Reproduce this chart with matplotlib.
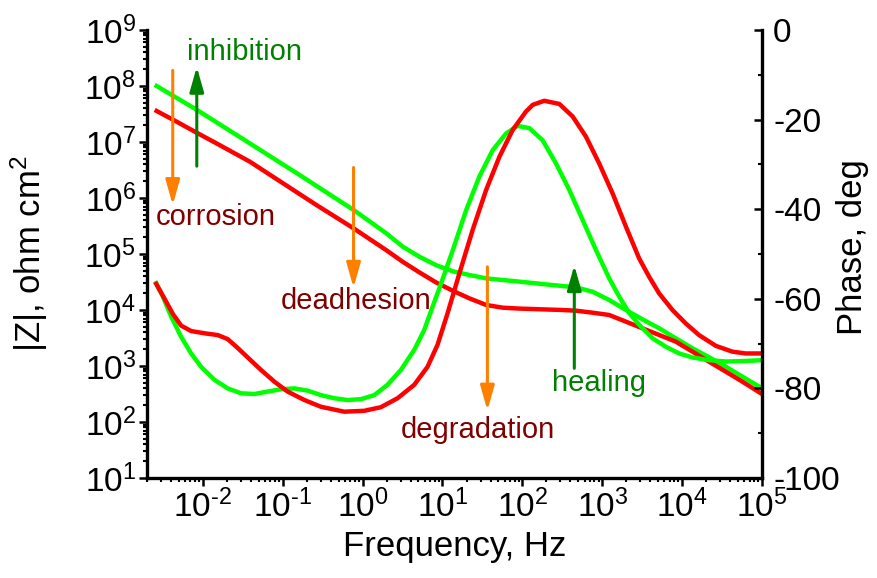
import numpy as np
import matplotlib
matplotlib.use('Agg')
import matplotlib.pyplot as plt
from matplotlib import ticker

plt.rcParams['font.family'] = ['Liberation Sans', 'DejaVu Sans']
plt.rcParams['mathtext.fontset'] = 'custom'
plt.rcParams['mathtext.rm'] = 'Liberation Sans'
plt.rcParams['mathtext.it'] = 'Liberation Sans:italic'
plt.rcParams['mathtext.default'] = 'regular'
plt.rcParams['axes.unicode_minus'] = False

# |Z| curves (Hz, ohm cm2)
f_z_green = [2.64e-3, 8.49e-3, 3.87e-2, 0.163, 0.772, 1.98, 3.19, 5.16, 8.34, 13.5, 21.8,
             35.2, 91.7, 239, 469, 757, 1220, 1980, 3190, 5160, 8340, 1.35e4,
             2.18e4, 3.52e4, 5.68e4, 1e5]
z_green = [1.0e8, 3.72e7, 9.46e6, 2.57e6, 6.11e5, 2.34e5, 1.35e5, 8.91e4, 6.31e4, 4.90e4, 4.22e4,
           3.67e4, 3.21e4, 2.79e4, 2.54e4, 2.12e4, 1.51e4, 1.0e4, 6810, 4710, 3120, 2070,
           1430, 973, 646, 400]

f_z_red = [2.64e-3, 4.69e-3, 8.34e-3, 1.48e-2, 3.87e-2, 0.101, 0.264, 0.772, 1.98, 3.19,
           5.16, 8.34, 13.5, 21.8, 35.2, 56.8, 91.7, 319, 469, 757, 1220, 1980, 3190,
           5160, 8340, 1.35e4, 2.18e4, 3.52e4, 5.68e4, 1e5]
z_red = [3.58e7, 2.31e7, 1.47e7, 9.46e6, 4.46e6, 1.83e6, 7.50e5, 2.87e5, 1.17e5, 7.24e4,
         4.68e4, 3.10e4, 2.20e4, 1.61e4, 1.23e4, 1.10e4, 1.06e4, 1.0e4, 9730, 8950, 8150,
         6190, 4710, 3580, 2720, 1800, 1190, 793, 525, 316]

# phase curves (Hz, deg)
f_ph_green = [2.61e-3, 3.16e-3, 4.02e-3, 5.36e-3, 7.14e-3, 9.53e-3, 1.40e-2, 2.05e-2,
              3.01e-2, 4.43e-2, 6.49e-2, 9.53e-2, 0.140, 0.205, 0.301, 0.443, 0.649,
              0.953, 1.40, 2.05, 3.01, 4.43, 5.90, 7.87, 9.17, 13.5, 19.8, 29.0, 42.6,
              62.5, 87.1, 122, 179, 264, 387, 568, 834, 1220, 1630, 2180, 2900, 4260,
              6250, 9170, 1.35e4, 2.18e4, 3.52e4, 5.68e4, 1e5]
ph_green = [-56.5, -59.5, -64.0, -68.5, -72.2, -75.2, -78.1, -80.0,
            -81.1, -81.25, -80.7, -80.2, -80.0, -80.5, -81.5, -82.2, -82.6,
            -82.4, -81.5, -79.2, -75.9, -71.4, -67.0, -60.8, -57.6, -49.1, -40.2, -32.7, -26.8,
            -23.1, -21.4, -21.9, -24.6, -29.8, -35.7, -42.4, -49.1, -55.4, -59.5, -63.2, -65.8,
            -68.8, -70.7, -72.2, -73.1, -73.7, -74.0, -73.9, -73.7]

f_ph_red = [2.61e-3, 3.32e-3, 4.22e-3, 5.36e-3, 7.14e-3, 1.05e-2, 1.54e-2, 2.05e-2,
            2.74e-2, 3.65e-2, 5.36e-2, 7.87e-2, 0.115, 0.187, 0.301, 0.590, 1.05, 1.69,
            2.74, 4.43, 6.49, 8.66, 11.6, 16.3, 23.9, 35.2, 51.6, 75.7, 111, 135, 188,
            290, 426, 625, 917, 1350, 1980, 2900, 3870, 5160, 7570, 1.11e4, 1.63e4,
            2.64e4, 4.26e4, 6.25e4, 1e5]
ph_red = [-56.7, -60.0, -63.4, -66.0, -67.2, -67.7, -68.1, -69.0,
          -71.0, -73.1, -75.9, -78.5, -80.7, -82.6, -84.1, -85.2, -85.0, -84.2,
          -82.2, -79.2, -75.2, -70.3, -63.2, -54.3, -44.6, -35.7, -28.3, -22.3, -18.2, -16.7, -15.8,
          -16.5, -19.3, -23.8, -29.8, -36.5, -43.9, -51.0, -55.1, -58.8, -62.5, -65.5, -68.1,
          -70.5, -71.8, -72.2, -72.2]

# annotation arrows: x, start |Z|, end |Z|, colour
arrow_x = [4.2e-3, 8.4e-3, 0.77, 36.5, 447]
arrow_from = [1.9e8, 3.7e6, 3.5e6, 5.9e4, 910]
arrow_to = [7.5e5, 2.2e8, 2.5e4, 160, 6.3e4]
arrow_col = ['#ff8000', '#008000', '#ff8000', '#ff8000', '#008000']

labels = ['inhibition', 'corrosion', 'deadhesion', 'degradation', 'healing']
label_x = [0.0335, 0.0145, 0.84, 28, 920]
label_y = [4.1e8, 4.6e5, 1.45e4, 72, 500]
label_col = ['#008000', '#800000', '#800000', '#800000', '#008000']


def pow10(v, pos):
    e = int(round(np.log10(v)))
    return r'$10^{%s}$' % str(e).replace('-', '\u2010')


fig = plt.figure(figsize=(8.77, 5.78), dpi=100)
ax = fig.add_axes([147/877, 1-478/578, 615/877, 448/578])
ax2 = ax.twinx()

ax.plot(f_z_green, z_green, color='#00ff00', lw=3.2)
ax.plot(f_z_red, z_red, color='#ff0000', lw=3.2)
ax2.plot(f_ph_green, ph_green, color='#00ff00', lw=3.2)
ax2.plot(f_ph_red, ph_red, color='#ff0000', lw=3.2)

ax.set_xscale('log')
ax.set_yscale('log')
ax.set_xlim(2e-3, 1e5)
ax.set_ylim(10, 1e9)
ax2.set_ylim(-100, 0)

for x, y0, y1, c in zip(arrow_x, arrow_from, arrow_to, arrow_col):
    ax.annotate('', xy=(x, y1), xytext=(x, y0),
                arrowprops=dict(arrowstyle='-|>,head_length=0.6,head_width=0.17',
                                mutation_scale=25, color=c, lw=2.2,
                                shrinkA=0, shrinkB=0))

for t, x, y, c in zip(labels, label_x, label_y, label_col):
    ax.text(x, y, t, color=c, fontsize=21, ha='center', va='center')

for s in ['top', 'right']:
    ax.spines[s].set_visible(False)
for s in ['top', 'left', 'bottom']:
    ax2.spines[s].set_visible(False)
for s in ['left', 'bottom']:
    ax.spines[s].set_linewidth(2.4)
ax2.spines['right'].set_linewidth(2.4)

ax.xaxis.set_major_locator(ticker.LogLocator(base=10, numticks=20))
ax.xaxis.set_minor_locator(ticker.LogLocator(base=10, subs=np.arange(2, 10), numticks=20))
ax.xaxis.set_major_formatter(ticker.FuncFormatter(pow10))
ax.xaxis.set_minor_formatter(ticker.NullFormatter())
ax.yaxis.set_major_locator(ticker.LogLocator(base=10, numticks=20))
ax.yaxis.set_minor_locator(ticker.LogLocator(base=10, subs=np.arange(2, 10), numticks=20))
ax.yaxis.set_major_formatter(ticker.FuncFormatter(pow10))
ax.yaxis.set_minor_formatter(ticker.NullFormatter())
ax2.yaxis.set_major_locator(ticker.MultipleLocator(20))
ax2.yaxis.set_minor_locator(ticker.MultipleLocator(10))

ax.tick_params(which='major', direction='out', length=6, width=1.8, labelsize=24, pad=2)
ax.tick_params(which='minor', direction='out', length=3, width=1.5)
ax2.tick_params(which='major', direction='in', length=6, width=1.8, labelsize=24, pad=8)
ax2.tick_params(which='minor', direction='in', length=3, width=1.5)

ax.set_xlabel('Frequency, Hz', fontsize=25)
ax.set_ylabel('|Z|, ohm cm$^2$', fontsize=25)
ax2.set_ylabel('Phase, deg', fontsize=25)
ax.xaxis.set_label_coords(0.5, -0.115)
ax.yaxis.set_label_coords(-0.158, 0.5)
ax2.yaxis.set_label_coords(1.12, 0.515)

fig.savefig('out.png', dpi=100)
